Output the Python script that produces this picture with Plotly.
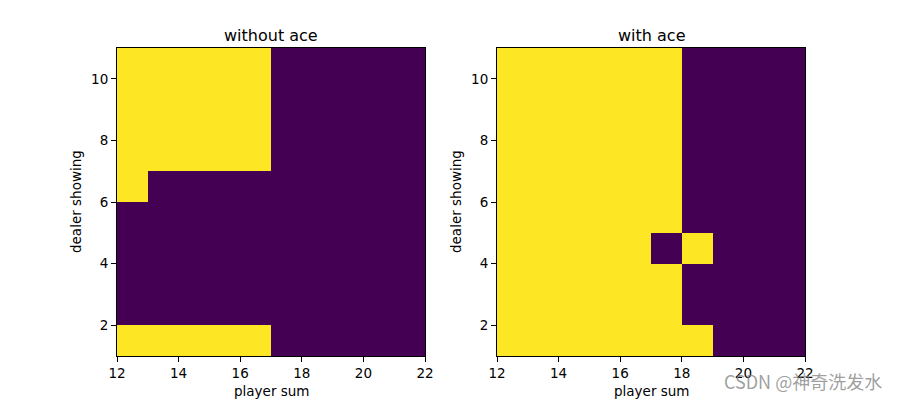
import plotly.graph_objects as go

player_sums = [12, 13, 14, 15, 16, 17, 18, 19, 20, 21]
dealer_showing = [1, 2, 3, 4, 5, 6, 7, 8, 9, 10]

# rows = dealer 1..10, cols = player sum 12..21 ; 1 = yellow (hit), 0 = purple (stick)
without_ace = [
    [1, 1, 1, 1, 1, 0, 0, 0, 0, 0],
    [0, 0, 0, 0, 0, 0, 0, 0, 0, 0],
    [0, 0, 0, 0, 0, 0, 0, 0, 0, 0],
    [0, 0, 0, 0, 0, 0, 0, 0, 0, 0],
    [0, 0, 0, 0, 0, 0, 0, 0, 0, 0],
    [1, 0, 0, 0, 0, 0, 0, 0, 0, 0],
    [1, 1, 1, 1, 1, 0, 0, 0, 0, 0],
    [1, 1, 1, 1, 1, 0, 0, 0, 0, 0],
    [1, 1, 1, 1, 1, 0, 0, 0, 0, 0],
    [1, 1, 1, 1, 1, 0, 0, 0, 0, 0],
]
with_ace = [
    [1, 1, 1, 1, 1, 1, 1, 0, 0, 0],
    [1, 1, 1, 1, 1, 1, 0, 0, 0, 0],
    [1, 1, 1, 1, 1, 1, 0, 0, 0, 0],
    [1, 1, 1, 1, 1, 0, 1, 0, 0, 0],
    [1, 1, 1, 1, 1, 1, 0, 0, 0, 0],
    [1, 1, 1, 1, 1, 1, 0, 0, 0, 0],
    [1, 1, 1, 1, 1, 1, 0, 0, 0, 0],
    [1, 1, 1, 1, 1, 1, 0, 0, 0, 0],
    [1, 1, 1, 1, 1, 1, 0, 0, 0, 0],
    [1, 1, 1, 1, 1, 1, 0, 0, 0, 0],
]
titles = ["without ace", "with ace"]
x_label = "player sum"
y_label = "dealer showing"
x_ticks = [12, 14, 16, 18, 20, 22]
y_ticks = [2, 4, 6, 8, 10]

x_edges = player_sums + [player_sums[-1] + 1]
y_edges = dealer_showing + [dealer_showing[-1] + 1]

cscale = [[0, "#440154"], [1, "#fde725"]]
FONT = "DejaVu Sans"
W, H = 900, 400

fig = go.Figure()
domains = [[117 / W, 425 / W], [497 / W, 805 / W]]
ydom = [1 - 356 / H, 1 - 48 / H]
ylab_x = [76, 456]
for i, z in enumerate([without_ace, with_ace]):
    xa = "x" if i == 0 else "x2"
    ya = "y" if i == 0 else "y2"
    fig.add_trace(go.Heatmap(z=z, x=x_edges, y=y_edges, colorscale=cscale,
                             zmin=0, zmax=1, showscale=False, xaxis=xa, yaxis=ya))
    axis_common = dict(showline=True, linecolor="black", linewidth=1, mirror=True,
                       ticks="outside", ticklen=5, tickcolor="black", showgrid=False,
                       zeroline=False, automargin=False,
                       tickfont=dict(family=FONT, size=13.5, color="black"))
    xkey = "xaxis" if i == 0 else "xaxis2"
    ykey = "yaxis" if i == 0 else "yaxis2"
    fig.layout[xkey] = dict(domain=domains[i], range=[12, 22], tickvals=x_ticks,
                            anchor=ya, **axis_common)
    fig.layout[ykey] = dict(domain=ydom, range=[1, 11], tickvals=y_ticks,
                            anchor=xa, **axis_common)
    cx = (domains[i][0] + domains[i][1]) / 2
    fig.add_annotation(text=titles[i], x=cx, y=1 - 35 / H,
                       xref="paper", yref="paper", showarrow=False, xanchor="center", yanchor="middle",
                       font=dict(family=FONT, size=16, color="black"))
    fig.add_annotation(text=x_label, x=cx, y=1 - 391 / H,
                       xref="paper", yref="paper", showarrow=False, xanchor="center", yanchor="middle",
                       font=dict(family=FONT, size=13.5, color="black"))
    fig.add_annotation(text=y_label, x=ylab_x[i] / W, y=(ydom[0] + ydom[1]) / 2, textangle=-90,
                       xref="paper", yref="paper", showarrow=False, xanchor="center", yanchor="middle",
                       font=dict(family=FONT, size=13.5, color="black"))

fig.add_annotation(text="CSDN @神奇洗发水", x=884 / W, y=1 - 381 / H, xref="paper", yref="paper",
                   showarrow=False, xanchor="right", yanchor="middle",
                   font=dict(family="Noto Sans CJK SC", size=18, color="rgba(128,128,128,0.75)"))

fig.update_layout(width=W, height=H, margin=dict(l=0, r=0, t=0, b=0),
                  paper_bgcolor="white", plot_bgcolor="white")
fig.write_html("out.html", config={"displayModeBar": False},
               post_script="document.body.style.margin='0';document.body.style.overflow='hidden';")
